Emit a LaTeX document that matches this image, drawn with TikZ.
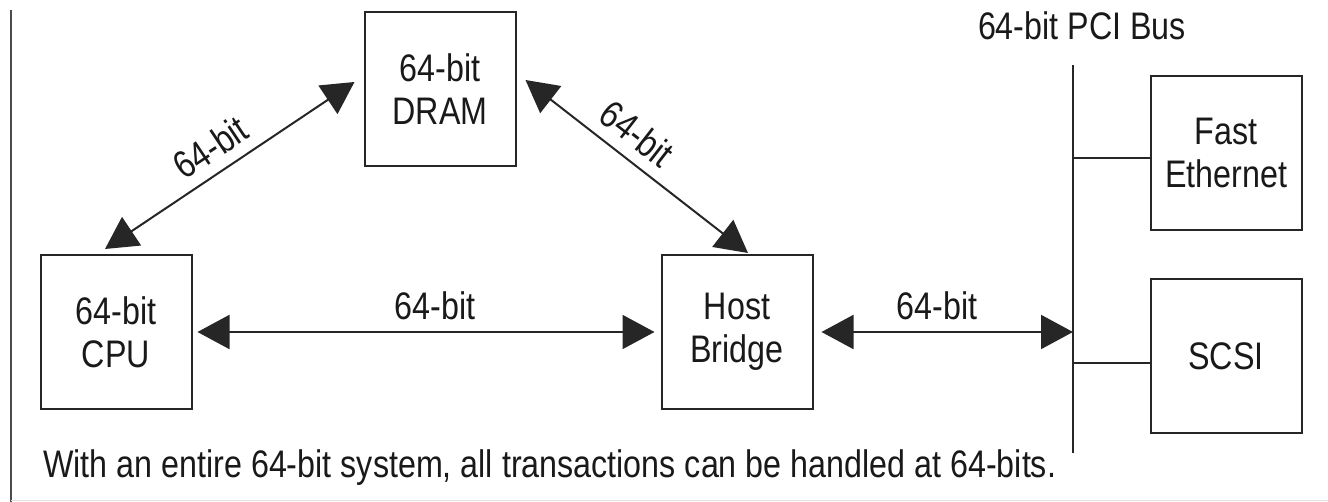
\documentclass[tikz,border=0pt]{standalone}
\usepackage{fontspec}
\newfontfamily\diagfont[FakeStretch=0.84]{Liberation Sans}
\usetikzlibrary{arrows.meta, positioning}

\begin{document}
\begin{tikzpicture}[x=1pt, y=-1pt,
  unit/.style={draw=black!85, line width=2pt, minimum width=151pt, minimum height=154pt, inner sep=2pt, align=center},
  link/.style={draw=black!85, line width=2pt, {Triangle[length=32pt,width=34pt]}-{Triangle[length=32pt,width=34pt]}},
  wire/.style={draw=black!85, line width=2pt},
  tag/.style={inner sep=2pt},
  every node/.append style={font=\diagfont\fontsize{38.4pt}{43pt}\selectfont, text=black!90}]
  \useasboundingbox (0,0) rectangle (1328,502);
  \draw[line width=2.5pt, black!70] (11,10) -- (11,502);
  \draw[line width=1pt, black!12] (11,500) -- (1328,500);

  \node[unit] (dram) at (440,89) {64-bit\\DRAM};
  \node[unit] (cpu) at (116,332) {64-bit\\CPU};
  \node[unit] (host) at (737,332) {Host\\Bridge};
  \node[unit] (eth) at (1226,153) {Fast\\Ethernet};
  \node[unit] (scsi) at (1226,356) {SCSI};

  \node[tag, anchor=base] (bustitle) at (1082,40) {64-bit PCI Bus};
  \node[tag, anchor=base west, inner sep=0pt] (caption) at (43,477) {With an entire 64-bit system, all transactions can be handled at 64-bits.};

  % PCI bus
  \coordinate (bustop) at (1073,65);
  \coordinate (busbot) at (1073,453);
  \draw[wire] (bustop) -- (busbot);
  \draw[wire] ([yshift=-5pt]eth.west) -- ([yshift=-5pt]eth.west -| bustop);
  \draw[wire] ([yshift=-7pt]scsi.west) -- ([yshift=-7pt]scsi.west -| bustop);

  \draw[link] ([xshift=-11pt,yshift=5pt]cpu.north) -- node[tag, sloped, pos=0.48, above=9pt] {64-bit} ([xshift=-9pt,yshift=7pt]dram.west);
  \draw[link] ([xshift=9pt,yshift=9pt]dram.east) -- node[tag, sloped, pos=0.43, above=9pt] {64-bit} ([xshift=11pt,yshift=1pt]host.north);
  \draw[link] ([xshift=5pt]cpu.east) -- node[tag, pos=0.52, above=9pt] {64-bit} ([xshift=-6pt]host.west);
  \draw[link] ([xshift=8pt]host.east) -- node[tag, pos=0.46, above=9pt] {64-bit} (host.east -| bustop);
\end{tikzpicture}
\end{document}
